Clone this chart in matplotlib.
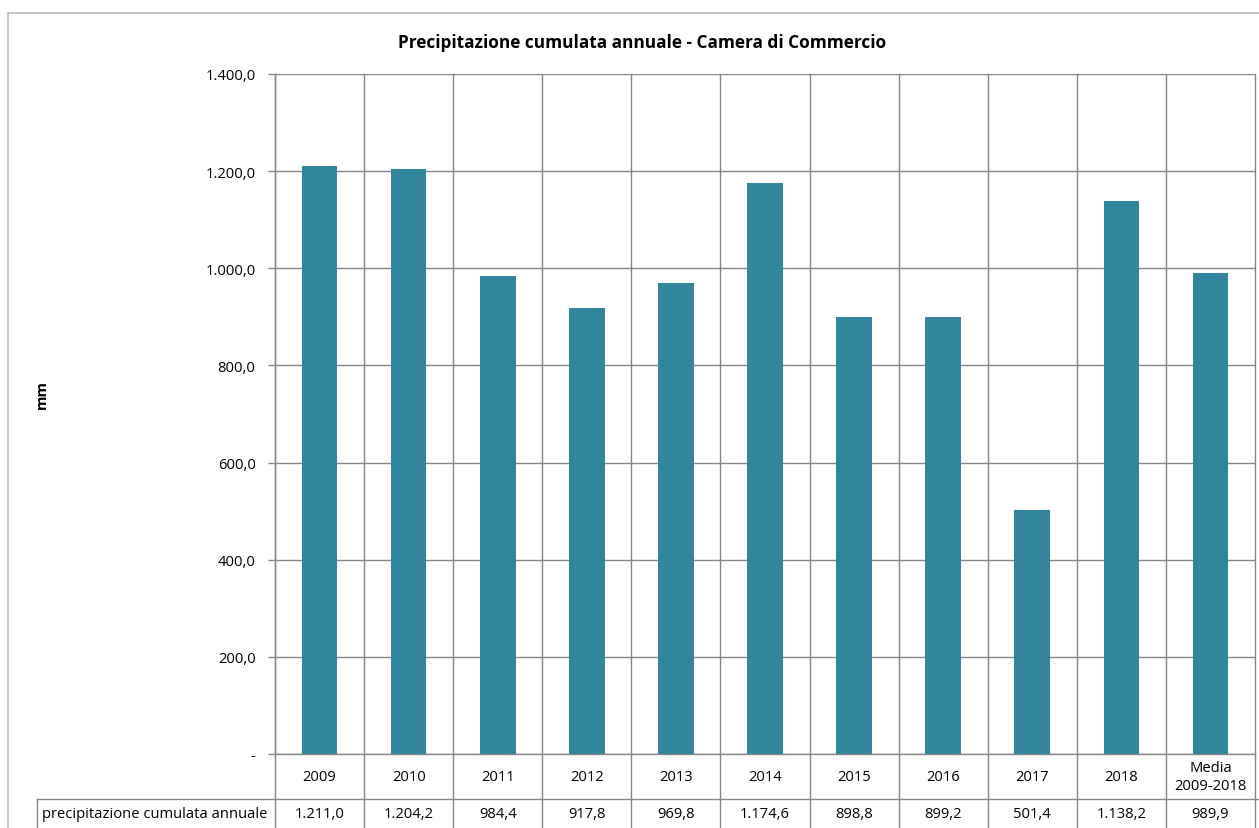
import matplotlib.pyplot as plt
from matplotlib.ticker import FuncFormatter
from matplotlib.lines import Line2D

categories = ['2009', '2010', '2011', '2012', '2013', '2014', '2015', '2016', '2017', '2018', 'Media\n2009-2018']
precip = [1211.0, 1204.2, 984.4, 917.8, 969.8, 1174.6, 898.8, 899.2, 501.4, 1138.2, 989.9]
series_name = 'precipitazione cumulata annuale'
yticks = [0, 200, 400, 600, 800, 1000, 1200, 1400]

BAR = '#31859c'
GRID = '#868686'
FONT = 'Open Sans'
FS = 10.6

plt.rcParams['font.family'] = FONT


def it_fmt(v, pos=None):
    # italian number style: 1.211,0 and "-" for zero
    if v == 0:
        return '-'
    s = f'{v:,.1f}'
    return s.replace(',', 'X').replace('.', ',').replace('X', '.')


W, H = 1259, 829
fig = plt.figure(figsize=(W / 100, H / 100), dpi=100)
ax = fig.add_axes([275 / W, (H - 755) / H, 980 / W, 680 / H])

x = range(len(categories))
ax.bar(x, precip, width=0.4, color=BAR, zorder=3)

ax.set_xlim(-0.5, len(categories) - 0.5)
ax.set_ylim(0, 1400)
ax.set_yticks(yticks)
ax.yaxis.set_major_formatter(FuncFormatter(it_fmt))
ax.set_xticks([])
ax.tick_params(axis='y', length=5, width=1, color=GRID, labelsize=FS, pad=9)
ax.grid(axis='y', color=GRID, lw=1, zorder=0)
for s in ['top', 'right']:
    ax.spines[s].set_visible(False)
for s in ['left', 'bottom']:
    ax.spines[s].set_color(GRID)
    ax.spines[s].set_linewidth(1)

# vertical category separators running down through the table
trans = ax.get_xaxis_transform()
y_bot = -(H - 755) / 680
for i in range(len(categories) + 1):
    ax.add_line(Line2D([i - 0.5, i - 0.5], [1, y_bot], transform=trans,
                       color=GRID, lw=1, clip_on=False, zorder=1))

# category labels row and data table row
row1 = -45 / 680
for i, c in enumerate(categories):
    ax.text(i, row1 / 2, c, transform=trans, ha='center', va='center', fontsize=FS,
            linespacing=1.25)
    ax.text(i, (row1 + y_bot) / 2, it_fmt(precip[i]), transform=trans,
            ha='center', va='center', fontsize=FS)

fig.add_artist(Line2D([37 / W, 1], [(H - 800) / H] * 2, color=GRID, lw=1))
fig.add_artist(Line2D([37 / W, 37 / W], [(H - 800) / H, 0], color=GRID, lw=1))
fig.text(42 / W, (H - 815) / H, series_name, ha='left', va='center', fontsize=FS)

# outer chart border
fig.add_artist(Line2D([8 / W, 1], [(H - 14) / H] * 2, color='#bfbfbf', lw=1.2))
fig.add_artist(Line2D([8 / W, 8 / W], [(H - 14) / H, 0], color='#bfbfbf', lw=1.2))

fig.text(642 / W, (H - 43) / H, 'Precipitazione cumulata annuale - Camera di Commercio',
         ha='center', va='center', fontsize=12.4, fontweight='bold')
fig.text(42 / W, (H - 395) / H, 'mm', rotation=90, ha='center', va='center',
         fontsize=FS, fontweight='bold')

fig.savefig('out.png', dpi=100)
